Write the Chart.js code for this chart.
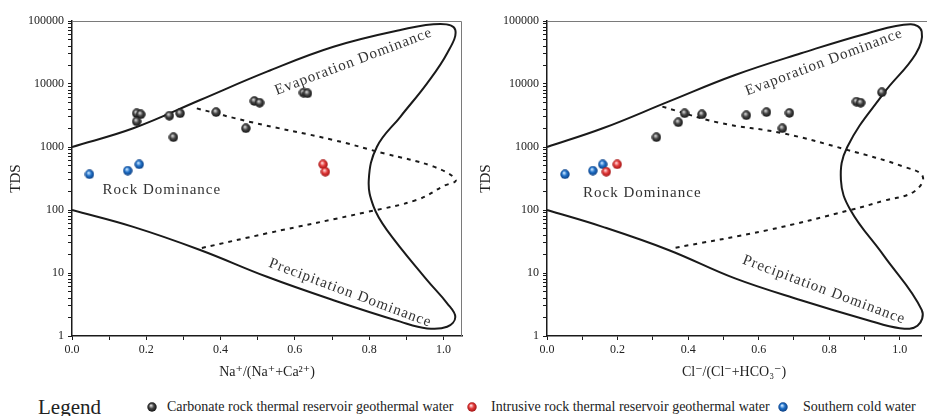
<!DOCTYPE html>
<html>
<head>
<meta charset="utf-8">
<script src="https://cdn.jsdelivr.net/npm/chart.js@4.4.1/dist/chart.umd.min.js"></script>
<style>
  html, body { margin: 0; padding: 0; background: #fff; overflow: hidden; }
  #wrap { position: relative; width: 927px; height: 416px; overflow: hidden; background: #fff;
          font-family: "Liberation Serif", "DejaVu Serif", serif; color: #222; }
  #wrap canvas { position: absolute; top: 0; }
  #leftChart { left: 0; }
  #rightChart { left: 470px; }
  .lg { position: absolute; white-space: nowrap; }
  .lg-title { left: 38px; top: 395px; font-size: 21px; line-height: 24px; }
  .lg-text { top: 398px; font-size: 14px; line-height: 17px; }
  .lg-dot { position: absolute; top: 402px; }
</style>
</head>
<body>
<div id="wrap">
  <canvas id="leftChart" width="470" height="385"></canvas>
  <canvas id="rightChart" width="457" height="385"></canvas>

  <span class="lg lg-title">Legend</span>
  <img class="lg-dot" id="dotCarbonate" style="left:147px">
  <span class="lg lg-text" style="left:167px">Carbonate rock thermal reservoir geothermal water</span>
  <img class="lg-dot" id="dotIntrusive" style="left:467px">
  <span class="lg lg-text" style="left:491px">Intrusive rock thermal reservoir geothermal water</span>
  <img class="lg-dot" id="dotCold" style="left:778px">
  <span class="lg lg-text" style="left:803px">Southern cold water</span>
</div>

<script>
// ---- Left panel: Na+/(Na+ + Ca2+) ----
const leftBoundaryX = [0, 0.165, 0.345, 0.525, 0.704, 0.884, 0.992, 1.032, 1.01, 0.956, 0.884, 0.821, 0.799, 0.812, 0.848, 0.956, 1.01, 1.032, 1.01, 0.956, 0.884, 0.704, 0.525, 0.345, 0.165, 0];
const leftBoundaryY = [1000, 1980, 5570, 15700, 39000, 72000, 89700, 72000, 30700, 10260, 3020, 1010, 299, 113, 48, 7.7, 3.3, 2.0, 1.4, 1.32, 1.69, 3.7, 8.7, 23.2, 54, 100];
const leftDashX = [0.336, 0.48, 0.704, 0.839, 0.974, 1.033, 1.0, 0.929, 0.794, 0.525, 0.345];
const leftDashY = [4100, 2500, 1290, 794, 487, 300, 240, 145, 93, 42.6, 24.6];

const leftCarbonateX = [0.174, 0.185, 0.174, 0.262, 0.291, 0.273, 0.388, 0.468, 0.491, 0.505, 0.623, 0.634];
const leftCarbonateY = [3430, 3300, 2550, 3140, 3430, 1430, 3570, 1980, 5370, 5050, 7280, 7100];
const leftIntrusiveX = [0.676, 0.682];
const leftIntrusiveY = [531, 405];
const leftColdX = [0.047, 0.15, 0.181];
const leftColdY = [369, 421, 531];

// ---- Right panel: Cl-/(Cl- + HCO3-) ----
const rightBoundaryX = [0, 0.158, 0.346, 0.533, 0.72, 0.907, 1.03, 1.062, 1.045, 0.954, 0.851, 0.833, 0.86, 0.954, 1.062, 1.05, 1.0, 0.907, 0.72, 0.533, 0.346, 0.158, 0];
const rightBoundaryY = [1000, 1980, 5300, 13900, 30700, 63500, 89000, 68000, 30000, 7100, 1000, 300, 100, 19, 2.6, 1.45, 1.33, 1.8, 3.7, 8.2, 23, 54, 100];
const rightDashX = [0.327, 0.486, 0.669, 0.851, 1.01, 1.065, 1.04, 0.954, 0.86, 0.626, 0.355];
const rightDashY = [4370, 2440, 1650, 900, 490, 340, 195, 140, 100, 48, 24.6];

const rightCarbonateX = [0.31, 0.372, 0.39, 0.439, 0.565, 0.622, 0.687, 0.667, 0.877, 0.889, 0.949];
const rightCarbonateY = [1430, 2470, 3430, 3300, 3190, 3570, 3480, 1980, 5240, 5050, 7380];
const rightIntrusiveX = [0.168, 0.199];
const rightIntrusiveY = [405, 531];
const rightColdX = [0.051, 0.13, 0.158];
const rightColdY = [369, 421, 531];

// ---- Axis ticks ----
const xTickValues = [0, 0.1, 0.2, 0.3, 0.4, 0.5, 0.6, 0.7, 0.8, 0.9, 1.0];
const yDecades = [1, 10, 100, 1000, 10000, 100000];
const yMinorSteps = [1, 2, 3, 4, 5, 6, 7, 8, 9];

// ---- Region labels ----
const leftRegionLabels = [
  { text: "Evaporation Dominance", x: 0.758, y: 22600, angle: -20.7 },
  { text: "Rock Dominance", x: 0.242, y: 207, angle: 0 },
  { text: "Precipitation Dominance", x: 0.749, y: 4.8, angle: 20.5 },
];
const rightRegionLabels = [
  { text: "Evaporation Dominance", x: 0.785, y: 22100, angle: -20.7 },
  { text: "Rock Dominance", x: 0.27, y: 184, angle: 0 },
  { text: "Precipitation Dominance", x: 0.785, y: 5.4, angle: 20.5 },
];

const FONT = "'Liberation Serif', 'DejaVu Serif', serif";
const INK = "#1a1a1a";

function zip(xs, ys) {
  return xs.map((x, i) => ({ x: x, y: ys[i] }));
}

// little shaded balls like the original markers
function makeSphere(base, light, dark, size) {
  const c = document.createElement("canvas");
  c.width = size;
  c.height = size;
  const g = c.getContext("2d");
  const r = size / 2;
  const grad = g.createRadialGradient(r * 0.8, r * 0.7, r * 0.1, r, r, r);
  grad.addColorStop(0, light);
  grad.addColorStop(0.45, base);
  grad.addColorStop(1, dark);
  g.fillStyle = grad;
  g.beginPath();
  g.arc(r, r, r - 0.3, 0, Math.PI * 2);
  g.fill();
  return c;
}

const sphereCarbonate = makeSphere("#444", "#cfcfcf", "#0e0e0e", 10);
const sphereIntrusive = makeSphere("#e23a3a", "#ffd0d0", "#9a1010", 10);
const sphereCold = makeSphere("#1f6fc6", "#bfe0ff", "#0a3a7c", 10);

document.getElementById("dotCarbonate").src = sphereCarbonate.toDataURL();
document.getElementById("dotIntrusive").src = sphereIntrusive.toDataURL();
document.getElementById("dotCold").src = sphereCold.toDataURL();

function yTicks() {
  const out = [];
  yDecades.forEach((d) => {
    if (d === 100000) {
      out.push(d);
      return;
    }
    yMinorSteps.forEach((m) => out.push(m * d));
  });
  return out;
}

const gibbsDecor = {
  id: "gibbsDecor",
  afterDatasetsDraw(chart, args, opts) {
    const { ctx, chartArea, scales } = chart;
    ctx.save();
    // thin frame on top / right
    ctx.strokeStyle = "#7a7a7a";
    ctx.lineWidth = 1;
    ctx.beginPath();
    ctx.moveTo(chartArea.left, chartArea.top + 0.5);
    if (opts.frameRight) {
      ctx.lineTo(chartArea.right - 0.5, chartArea.top + 0.5);
      ctx.lineTo(chartArea.right - 0.5, chartArea.bottom);
    } else {
      ctx.lineTo(chart.width, chartArea.top + 0.5);
    }
    ctx.stroke();

    // region names
    ctx.fillStyle = "#333";
    ctx.font = "15px " + FONT;
    ctx.letterSpacing = "1px";
    ctx.textAlign = "center";
    ctx.textBaseline = "middle";
    (opts.labels || []).forEach((l) => {
      const px = scales.x.getPixelForValue(l.x);
      const py = scales.y.getPixelForValue(l.y);
      ctx.save();
      ctx.translate(px, py);
      ctx.rotate((l.angle * Math.PI) / 180);
      ctx.fillText(l.text, 0, 0);
      ctx.restore();
    });
    ctx.restore();
  },
};

function renderGibbsChart(canvasId, cfg) {
  const ctx = document.getElementById(canvasId).getContext("2d");

  return new Chart(ctx, {
    type: "scatter",
    data: {
      datasets: [
        {
          label: "Carbonate rock thermal reservoir geothermal water",
          data: zip(cfg.carbonateX, cfg.carbonateY),
          pointStyle: sphereCarbonate,
          pointRadius: 5,
        },
        {
          label: "Intrusive rock thermal reservoir geothermal water",
          data: zip(cfg.intrusiveX, cfg.intrusiveY),
          pointStyle: sphereIntrusive,
          pointRadius: 5,
        },
        {
          label: "Southern cold water",
          data: zip(cfg.coldX, cfg.coldY),
          pointStyle: sphereCold,
          pointRadius: 5,
        },
        {
          label: "boundary",
          data: zip(cfg.boundaryX, cfg.boundaryY),
          showLine: true,
          borderColor: INK,
          borderWidth: 2,
          pointRadius: 0,
          tension: 0.4,
          fill: false,
          clip: cfg.clip,
        },
        {
          label: "divide",
          data: zip(cfg.dashX, cfg.dashY),
          showLine: true,
          borderColor: INK,
          borderWidth: 2,
          borderDash: [4, 5],
          pointRadius: 0,
          tension: 0.4,
          fill: false,
          clip: cfg.clip,
        },
      ],
    },
    options: {
      responsive: false,
      animation: false,
      layout: { padding: { top: 21, right: cfg.rightPad, left: 0, bottom: 0 } },
      plugins: {
        legend: { display: false },
        tooltip: { enabled: false },
        gibbsDecor: { labels: cfg.labels, frameRight: cfg.frameRight },
      },
      scales: {
        x: {
          type: "linear",
          min: 0,
          max: cfg.xMax,
          afterBuildTicks: (axis) => {
            axis.ticks = xTickValues.map((v) => ({ value: v }));
          },
          afterFit: (axis) => {
            axis.height = 49;
          },
          ticks: {
            autoSkip: false,
            maxRotation: 0,
            padding: 3,
            color: "#222",
            font: { family: FONT, size: 12 },
            callback: (v) => (Math.round(v * 10) % 2 === 0 ? v.toFixed(1) : ""),
          },
          grid: { drawOnChartArea: false, tickLength: 4, tickColor: INK, color: INK },
          border: { color: INK, width: 1.5 },
          title: {
            display: true,
            text: cfg.xTitle,
            color: "#222",
            font: { family: FONT, size: 14 },
            padding: { top: 0, bottom: 4 },
          },
        },
        y: {
          type: "logarithmic",
          min: 1,
          max: 100000,
          afterBuildTicks: (axis) => {
            axis.ticks = yTicks().map((v) => ({ value: v }));
          },
          afterFit: (axis) => {
            axis.width = cfg.yWidth;
          },
          ticks: {
            autoSkip: false,
            padding: 4,
            color: "#222",
            font: { family: FONT, size: 12 },
            callback: (v) => (yDecades.includes(v) ? String(v) : ""),
          },
          grid: { drawOnChartArea: false, tickLength: 4, tickColor: INK, color: INK },
          border: { color: INK, width: 1.5 },
          title: {
            display: true,
            text: "TDS",
            color: "#222",
            font: { family: FONT, size: 15 },
            padding: { top: 7, bottom: 0 },
          },
        },
      },
    },
    plugins: [gibbsDecor],
  });
}

renderGibbsChart("leftChart", {
  boundaryX: leftBoundaryX, boundaryY: leftBoundaryY,
  dashX: leftDashX, dashY: leftDashY,
  carbonateX: leftCarbonateX, carbonateY: leftCarbonateY,
  intrusiveX: leftIntrusiveX, intrusiveY: leftIntrusiveY,
  coldX: leftColdX, coldY: leftColdY,
  labels: leftRegionLabels,
  xTitle: "Na\u207A/(Na\u207A+Ca\u00B2\u207A)",
  xMax: 1.05,
  yWidth: 72,
  rightPad: 8,
  frameRight: true,
  clip: undefined,
});

renderGibbsChart("rightChart", {
  boundaryX: rightBoundaryX, boundaryY: rightBoundaryY,
  dashX: rightDashX, dashY: rightDashY,
  carbonateX: rightCarbonateX, carbonateY: rightCarbonateY,
  intrusiveX: rightIntrusiveX, intrusiveY: rightIntrusiveY,
  coldX: rightColdX, coldY: rightColdY,
  labels: rightRegionLabels,
  xTitle: "Cl\u207B/(Cl\u207B+HCO\u2083\u207B)",
  xMax: 1.06,
  yWidth: 77,
  rightPad: 3,
  frameRight: false,
  clip: false,
});
</script>
</body>
</html>
